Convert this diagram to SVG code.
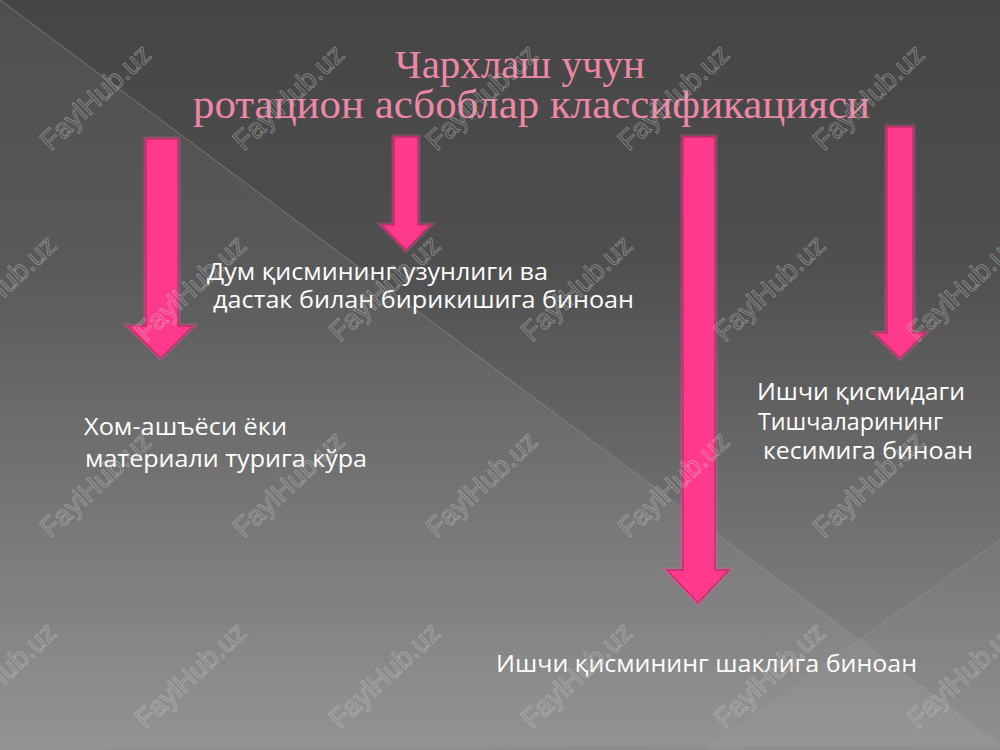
<svg xmlns="http://www.w3.org/2000/svg" width="1000" height="750" viewBox="0 0 1000 750">
<defs>
<linearGradient id="bg" x1="0" y1="0" x2="0" y2="1">
<stop offset="0" stop-color="#454545"/>
<stop offset="0.35" stop-color="#4f4f4f"/>
<stop offset="1" stop-color="#8d8d8d"/>
</linearGradient>
<style>
.title{font-family:"Liberation Serif","Times New Roman",serif;font-size:40px;fill:#ec88a6}
.lbl{font-family:"Open Sans","Noto Sans","DejaVu Sans",sans-serif;font-size:23px;fill:#ffffff}
.arrow{fill:#ff3a8c;stroke:#c92e6d;stroke-width:1.5;stroke-linejoin:miter}
.glow{fill:none;stroke:#ff5aa0;stroke-width:5;stroke-opacity:0.3}
.wm{font-family:"Liberation Sans",Arial,sans-serif;font-size:28px;fill:none;stroke:#cfcfcf;stroke-width:0.9;stroke-opacity:0.45}
.bgline{stroke:#9a9a9a;stroke-width:1;stroke-opacity:0.55;fill:none}
</style>
</defs>

<!-- background -->
<rect x="0" y="0" width="1000" height="750" fill="url(#bg)"/>
<polygon points="0,0 1000,745 0,750" fill="#ffffff" fill-opacity="0.06"/>
<polygon points="1000,540 705,750 1000,750" fill="#ffffff" fill-opacity="0.03"/>
<line class="bgline" x1="0" y1="0" x2="1000" y2="745"/>
<line class="bgline" x1="1000" y1="540" x2="705" y2="750"/>

<g id="title">
<text class="title" x="395" y="78" textLength="250" lengthAdjust="spacingAndGlyphs">Чархлаш учун</text>
<text class="title" x="193" y="118" textLength="677" lengthAdjust="spacingAndGlyphs">ротацион асбоблар классификацияси</text>
</g>

<g id="connectors">
<path class="glow" d="M146,139 H178 V326 H193 L161,358 L128,326 H146 Z"/>
<path class="arrow" d="M146,139 H178 V326 H193 L161,358 L128,326 H146 Z"/>
<path class="glow" d="M394,137 H418 V225 H430 L406,250 L382,225 H394 Z"/>
<path class="arrow" d="M394,137 H418 V225 H430 L406,250 L382,225 H394 Z"/>
<path class="glow" d="M683,137 H715 V570 H729 L698,603 L667,570 H683 Z"/>
<path class="arrow" d="M683,137 H715 V570 H729 L698,603 L667,570 H683 Z"/>
<path class="glow" d="M887,127 H913 V333 H925 L900,358 L875,333 H887 Z"/>
<path class="arrow" d="M887,127 H913 V333 H925 L900,358 L875,333 H887 Z"/>
</g>

<g id="node-dum">
<text class="lbl" x="207" y="280" textLength="341" lengthAdjust="spacingAndGlyphs">Дум қисмининг узунлиги ва</text>
<text class="lbl" x="213" y="308" textLength="421" lengthAdjust="spacingAndGlyphs">дастак билан бирикишига биноан</text>
</g>

<g id="node-hom">
<text class="lbl" x="84" y="435" textLength="203" lengthAdjust="spacingAndGlyphs">Хом-ашъёси ёки</text>
<text class="lbl" x="85" y="467" textLength="282" lengthAdjust="spacingAndGlyphs">материали турига кўра</text>
</g>

<g id="node-tish">
<text class="lbl" x="757" y="400" textLength="208" lengthAdjust="spacingAndGlyphs">Ишчи қисмидаги</text>
<text class="lbl" x="758" y="430" textLength="185" lengthAdjust="spacingAndGlyphs">Тишчаларининг</text>
<text class="lbl" x="763" y="459" textLength="210" lengthAdjust="spacingAndGlyphs">кесимига биноан</text>
</g>

<g id="node-shakl">
<text class="lbl" x="496" y="672" textLength="421" lengthAdjust="spacingAndGlyphs">Ишчи қисмининг шаклига биноан</text>
</g>

<g id="watermarks">
<text class="wm" textLength="140" lengthAdjust="spacingAndGlyphs" transform="translate(95,97) rotate(-43)" x="-70" y="10">FaylHub.uz</text>
<text class="wm" textLength="140" lengthAdjust="spacingAndGlyphs" transform="translate(288,97) rotate(-43)" x="-70" y="10">FaylHub.uz</text>
<text class="wm" textLength="140" lengthAdjust="spacingAndGlyphs" transform="translate(481,97) rotate(-43)" x="-70" y="10">FaylHub.uz</text>
<text class="wm" textLength="140" lengthAdjust="spacingAndGlyphs" transform="translate(673,97) rotate(-43)" x="-70" y="10">FaylHub.uz</text>
<text class="wm" textLength="140" lengthAdjust="spacingAndGlyphs" transform="translate(868,97) rotate(-43)" x="-70" y="10">FaylHub.uz</text>

<text class="wm" textLength="140" lengthAdjust="spacingAndGlyphs" transform="translate(0,288) rotate(-43)" x="-70" y="10">FaylHub.uz</text>
<text class="wm" textLength="140" lengthAdjust="spacingAndGlyphs" transform="translate(190,288) rotate(-43)" x="-70" y="10">FaylHub.uz</text>
<text class="wm" textLength="140" lengthAdjust="spacingAndGlyphs" transform="translate(384,288) rotate(-43)" x="-70" y="10">FaylHub.uz</text>
<text class="wm" textLength="140" lengthAdjust="spacingAndGlyphs" transform="translate(576,288) rotate(-43)" x="-70" y="10">FaylHub.uz</text>
<text class="wm" textLength="140" lengthAdjust="spacingAndGlyphs" transform="translate(769,288) rotate(-43)" x="-70" y="10">FaylHub.uz</text>
<text class="wm" textLength="140" lengthAdjust="spacingAndGlyphs" transform="translate(962,288) rotate(-43)" x="-70" y="10">FaylHub.uz</text>

<text class="wm" textLength="140" lengthAdjust="spacingAndGlyphs" transform="translate(95,484) rotate(-43)" x="-70" y="10">FaylHub.uz</text>
<text class="wm" textLength="140" lengthAdjust="spacingAndGlyphs" transform="translate(288,484) rotate(-43)" x="-70" y="10">FaylHub.uz</text>
<text class="wm" textLength="140" lengthAdjust="spacingAndGlyphs" transform="translate(481,484) rotate(-43)" x="-70" y="10">FaylHub.uz</text>
<text class="wm" textLength="140" lengthAdjust="spacingAndGlyphs" transform="translate(673,484) rotate(-43)" x="-70" y="10">FaylHub.uz</text>
<text class="wm" textLength="140" lengthAdjust="spacingAndGlyphs" transform="translate(868,484) rotate(-43)" x="-70" y="10">FaylHub.uz</text>

<text class="wm" textLength="140" lengthAdjust="spacingAndGlyphs" transform="translate(0,675) rotate(-43)" x="-70" y="10">FaylHub.uz</text>
<text class="wm" textLength="140" lengthAdjust="spacingAndGlyphs" transform="translate(190,675) rotate(-43)" x="-70" y="10">FaylHub.uz</text>
<text class="wm" textLength="140" lengthAdjust="spacingAndGlyphs" transform="translate(384,675) rotate(-43)" x="-70" y="10">FaylHub.uz</text>
<text class="wm" textLength="140" lengthAdjust="spacingAndGlyphs" transform="translate(576,675) rotate(-43)" x="-70" y="10">FaylHub.uz</text>
<text class="wm" textLength="140" lengthAdjust="spacingAndGlyphs" transform="translate(769,675) rotate(-43)" x="-70" y="10">FaylHub.uz</text>
<text class="wm" textLength="140" lengthAdjust="spacingAndGlyphs" transform="translate(962,675) rotate(-43)" x="-70" y="10">FaylHub.uz</text>
</g>
</svg>
